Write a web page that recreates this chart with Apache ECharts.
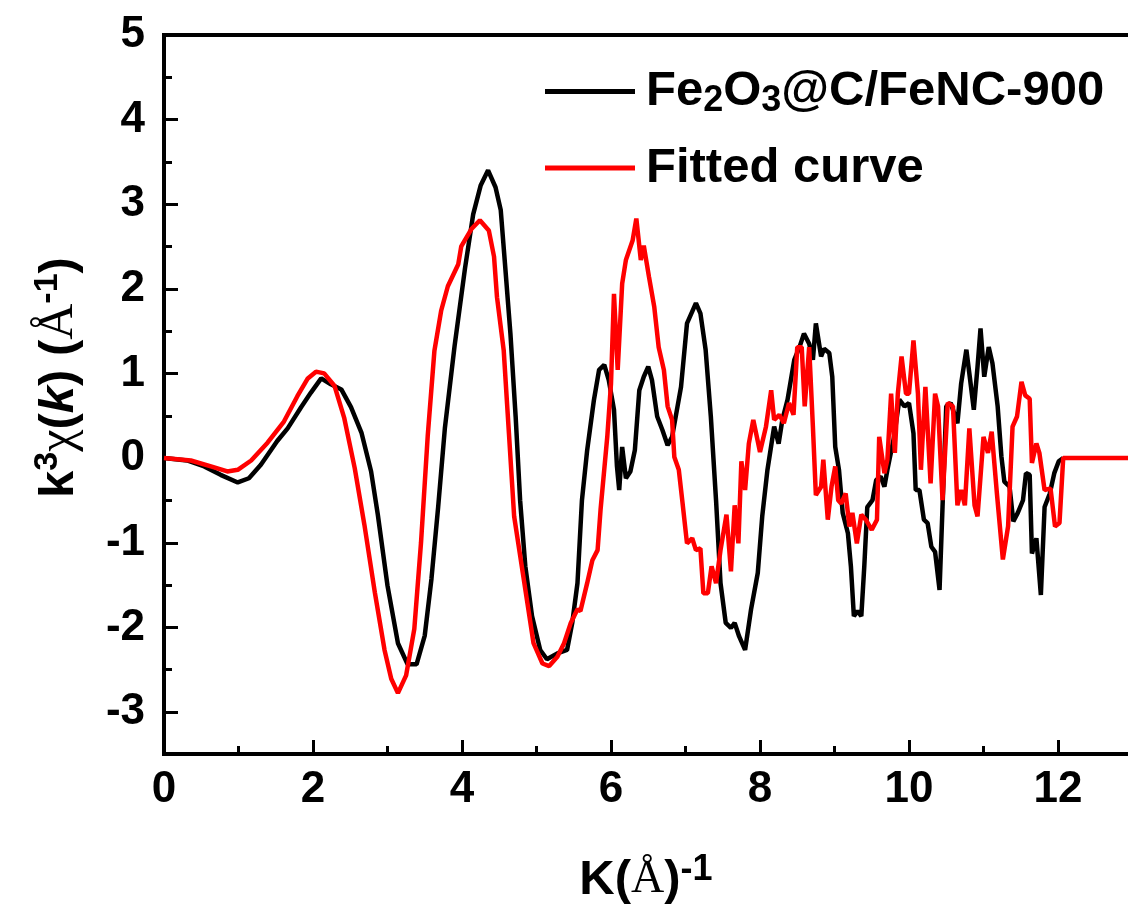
<!DOCTYPE html>
<html>
<head>
<meta charset="utf-8">
<script src="https://cdn.jsdelivr.net/npm/echarts@6.0.0/dist/echarts.min.js"></script>
<style>
html,body{margin:0;padding:0;background:#fff;}
#chart{width:1128px;height:908px;}
</style>
</head>
<body>
<div id="chart"></div>
<script>
// ---- data ----
const seriesNames = ['Fe2O3@C/FeNC-900', 'Fitted curve'];

const blackX = [0,0.31,0.54,0.76,0.99,1.14,1.30,1.52,1.66,1.84,1.97,2.11,2.24,2.38,2.51,2.65,2.78,2.87,3.00,3.14,3.27,3.39,3.50,3.59,3.68,3.77,3.90,4.04,4.15,4.25,4.35,4.45,4.52,4.58,4.65,4.72,4.78,4.85,4.94,5.05,5.14,5.28,5.41,5.48,5.55,5.61,5.68,5.77,5.84,5.91,5.97,6.04,6.08,6.11,6.15,6.20,6.26,6.32,6.38,6.44,6.50,6.55,6.62,6.69,6.76,6.82,6.94,7.02,7.14,7.20,7.27,7.34,7.41,7.47,7.54,7.61,7.66,7.72,7.80,7.88,7.97,8.03,8.10,8.19,8.25,8.30,8.37,8.46,8.53,8.59,8.66,8.71,8.75,8.82,8.86,8.93,8.97,9.01,9.06,9.11,9.18,9.22,9.26,9.31,9.36,9.40,9.44,9.51,9.56,9.62,9.67,9.71,9.80,9.87,9.94,10.00,10.06,10.09,10.14,10.20,10.25,10.30,10.35,10.41,10.45,10.50,10.56,10.65,10.70,10.77,10.81,10.87,10.92,10.96,11.01,11.07,11.12,11.19,11.24,11.28,11.35,11.40,11.46,11.53,11.57,11.62,11.65,11.71,11.77,11.82,11.89,11.95,12.01,12.07];
const blackY = [0,-0.03,-0.10,-0.20,-0.29,-0.24,-0.08,0.20,0.35,0.60,0.77,0.94,0.87,0.81,0.60,0.30,-0.16,-0.67,-1.51,-2.19,-2.44,-2.44,-2.10,-1.43,-0.58,0.35,1.32,2.24,2.88,3.22,3.40,3.20,2.93,2.26,1.47,0.49,-0.50,-1.28,-1.87,-2.27,-2.38,-2.31,-2.27,-1.95,-1.48,-0.50,0.09,0.68,1.04,1.10,0.92,0.57,-0.10,-0.38,0.13,-0.24,-0.16,0.09,0.80,0.96,1.08,0.92,0.49,0.33,0.15,0.25,0.84,1.59,1.83,1.71,1.28,0.49,-0.50,-1.48,-1.95,-2.01,-1.95,-2.11,-2.27,-1.79,-1.36,-0.69,-0.14,0.37,0.17,0.45,0.69,1.16,1.31,1.47,1.35,1.16,1.59,1.20,1.29,1.24,0.96,0.13,-0.14,-0.65,-0.89,-1.28,-1.87,-1.81,-1.87,-1.28,-0.58,-0.50,-0.26,-0.22,-0.34,-0.14,0.25,0.69,0.61,0.65,0.29,-0.38,-0.38,-0.73,-0.77,-1.05,-1.11,-1.56,-0.58,0.61,0.65,0.41,0.88,1.28,1.00,0.57,1.08,1.53,0.96,1.31,1.12,0.61,0.02,-0.28,-0.34,-0.75,-0.65,-0.50,-0.18,-0.20,-1.13,-0.95,-1.62,-0.58,-0.42,-0.18,-0.04,0];

const redX = [0,0.36,0.63,0.85,0.99,1.17,1.39,1.61,1.79,1.93,2.04,2.15,2.29,2.42,2.56,2.69,2.83,2.96,3.05,3.14,3.25,3.36,3.45,3.54,3.63,3.72,3.81,3.95,3.99,4.13,4.24,4.36,4.43,4.47,4.56,4.63,4.70,4.83,4.96,5.08,5.17,5.28,5.37,5.46,5.55,5.59,5.68,5.75,5.82,5.86,5.95,6.00,6.04,6.09,6.15,6.20,6.29,6.34,6.40,6.44,6.51,6.58,6.64,6.71,6.76,6.82,6.85,6.91,6.96,7.02,7.09,7.14,7.20,7.24,7.30,7.35,7.41,7.47,7.55,7.61,7.66,7.71,7.75,7.80,7.85,7.91,8.00,8.08,8.15,8.19,8.26,8.32,8.39,8.45,8.50,8.56,8.60,8.66,8.71,8.75,8.82,8.85,8.91,8.96,9.01,9.05,9.09,9.15,9.20,9.24,9.30,9.36,9.42,9.50,9.57,9.60,9.67,9.71,9.76,9.81,9.85,9.90,9.96,10.00,10.06,10.12,10.16,10.22,10.29,10.35,10.39,10.45,10.52,10.59,10.65,10.70,10.75,10.81,10.88,10.92,11.00,11.06,11.11,11.18,11.26,11.33,11.39,11.45,11.51,11.56,11.62,11.65,11.71,11.75,11.82,11.90,11.96,12.02,12.07,13];
const redY = [0,-0.03,-0.10,-0.16,-0.14,-0.03,0.18,0.43,0.73,0.94,1.02,1.00,0.85,0.47,-0.12,-0.79,-1.59,-2.27,-2.61,-2.78,-2.57,-2.02,-1.00,0.26,1.27,1.74,2.03,2.29,2.50,2.71,2.81,2.69,2.38,1.90,1.27,0.29,-0.69,-1.44,-2.19,-2.43,-2.46,-2.35,-2.19,-1.95,-1.79,-1.81,-1.48,-1.21,-1.09,-0.61,0.25,0.88,1.94,1.04,2.06,2.34,2.57,2.83,2.34,2.51,2.14,1.79,1.31,1.04,0.61,0.45,0.01,-0.14,-0.53,-1.01,-0.95,-1.09,-1.07,-1.60,-1.60,-1.28,-1.48,-1.09,-0.67,-1.34,-0.56,-1.01,-0.04,-0.38,0.17,0.45,0.07,0.37,0.80,0.45,0.51,0.41,0.65,0.51,1.31,1.31,0.61,1.31,0.37,-0.44,-0.34,-0.02,-0.73,-0.34,-0.10,-0.50,-0.54,-0.42,-0.81,-0.65,-1.01,-0.67,-0.73,-0.85,-0.73,0.25,-0.18,-0.02,0.76,0.06,0.76,1.20,0.76,0.76,1.39,0.76,-0.14,0.84,-0.30,0.76,0.61,-0.50,0.65,0.61,-0.56,-0.38,-0.56,0.35,-0.56,-0.69,0.25,0.06,0.31,-0.42,-1.20,-0.81,0.37,0.49,0.90,0.74,0.70,-0.06,0.17,0.06,-0.38,-0.36,-0.81,-0.77,0,0];

const xTickInterval = 2;
const yTickInterval = 1;

// ---- chart ----
const FONT = '"Liberation Sans", Arial, sans-serif';
const SERIF = '"Liberation Serif", "Times New Roman", serif';
const pair = (xs, ys) => xs.map((x, i) => [x, ys[i]]);

const chart = echarts.init(document.getElementById('chart'), null, {renderer: 'canvas'});
const base = {fontFamily: FONT, fontWeight: 'bold', color: '#000'};
const serif = {fontFamily: SERIF, fontWeight: 'normal', color: '#000'};

const option = {
  animation: false,
  backgroundColor: '#fff',
  grid: [
    {left: 164, top: 35, width: 1043, height: 719, show: true, borderColor: '#000', borderWidth: 4,
     backgroundColor: 'transparent', containLabel: false, outerBoundsMode: 'none'},
    {left: 164, top: 35, width: 1043, height: 677, show: false, containLabel: false, outerBoundsMode: 'none'}
  ],
  legend: {
    orient: 'vertical',
    left: 545,
    top: 67,
    padding: 0,
    itemWidth: 90,
    itemHeight: 5,
    itemGap: 24,
    icon: 'rect',
    data: seriesNames,
    textStyle: {
      ...base, fontSize: 49, padding: [0, 0, 0, 6],
      rich: {
        b: {...base, fontSize: 49, lineHeight: 56},
        s: {...base, fontSize: 36, lineHeight: 28, verticalAlign: 'bottom'}
      }
    },
    formatter: function (name) {
      if (name === seriesNames[0]) return '{b|Fe}{s|2}{b|O}{s|3}{b|@C/FeNC-900}';
      return '{b|' + name + '}';
    }
  },
  xAxis: [
    {
      type: 'value', gridIndex: 0, min: 0, max: 14, interval: xTickInterval,
      position: 'bottom',
      axisLine: {show: true, onZero: false, lineStyle: {color: '#000', width: 4}},
      axisTick: {show: true, inside: true, length: 14, lineStyle: {color: '#000', width: 3}},
      minorTick: {show: true, splitNumber: 2, length: 8, lineStyle: {color: '#000', width: 3}},
      splitLine: {show: false},
      axisLabel: {...base, fontSize: 44, margin: 14},
      name: '{b|K(}{a|Å}{b|)}{sup|-1}',
      nameLocation: 'middle',
      nameGap: 98,
      nameTextStyle: {
        padding: [0, 79, 0, 0],
        rich: {
          b: {...base, fontSize: 49, lineHeight: 56},
          a: {...serif, fontSize: 46, lineHeight: 56},
          sup: {...base, fontSize: 36, lineHeight: 28, verticalAlign: 'top'}
        }
      }
    },
    {type: 'value', gridIndex: 1, min: 0, max: 1, show: false}
  ],
  yAxis: [
    {
      type: 'value', gridIndex: 0, min: -3.5, max: 5,
      axisLine: {show: true, onZero: false, lineStyle: {color: '#000', width: 4}},
      axisTick: {show: false},
      axisLabel: {show: false},
      splitLine: {show: false},
      name: '{b|k}{sup|3}{g|χ}{b|(}{bi|k}{b|) (}{g|Å}{sup|-1}{b|)}',
      nameLocation: 'middle',
      nameRotate: 90,
      nameGap: 77,
      nameTextStyle: {
        padding: [0, 0, 0, 34],
        rich: {
          b: {...base, fontSize: 49, lineHeight: 56},
          bi: {...base, fontSize: 49, lineHeight: 56, fontStyle: 'italic'},
          g: {...serif, fontSize: 50, lineHeight: 56},
          sup: {...base, fontSize: 34, lineHeight: 28, verticalAlign: 'top'}
        }
      }
    },
    {
      type: 'value', gridIndex: 1, min: -3, max: 5, interval: yTickInterval,
      axisLine: {show: false},
      axisTick: {show: true, inside: true, length: 14, lineStyle: {color: '#000', width: 3}},
      minorTick: {show: true, splitNumber: 2, length: 8, lineStyle: {color: '#000', width: 3}},
      splitLine: {show: false},
      axisLabel: {...base, fontSize: 44, margin: 19}
    }
  ],
  series: [
    {
      name: seriesNames[0], type: 'line', xAxisIndex: 0, yAxisIndex: 0,
      data: pair(blackX, blackY), symbol: 'none', showSymbol: false,
      lineStyle: {color: '#000', width: 4.5}, itemStyle: {color: '#000'},
      clip: true, z: 2
    },
    {
      name: seriesNames[1], type: 'line', xAxisIndex: 0, yAxisIndex: 0,
      data: pair(redX, redY), symbol: 'none', showSymbol: false,
      lineStyle: {color: '#ff0000', width: 4.5}, itemStyle: {color: '#ff0000'},
      clip: true, z: 3
    }
  ]
};
chart.setOption(option);
</script>
</body>
</html>
